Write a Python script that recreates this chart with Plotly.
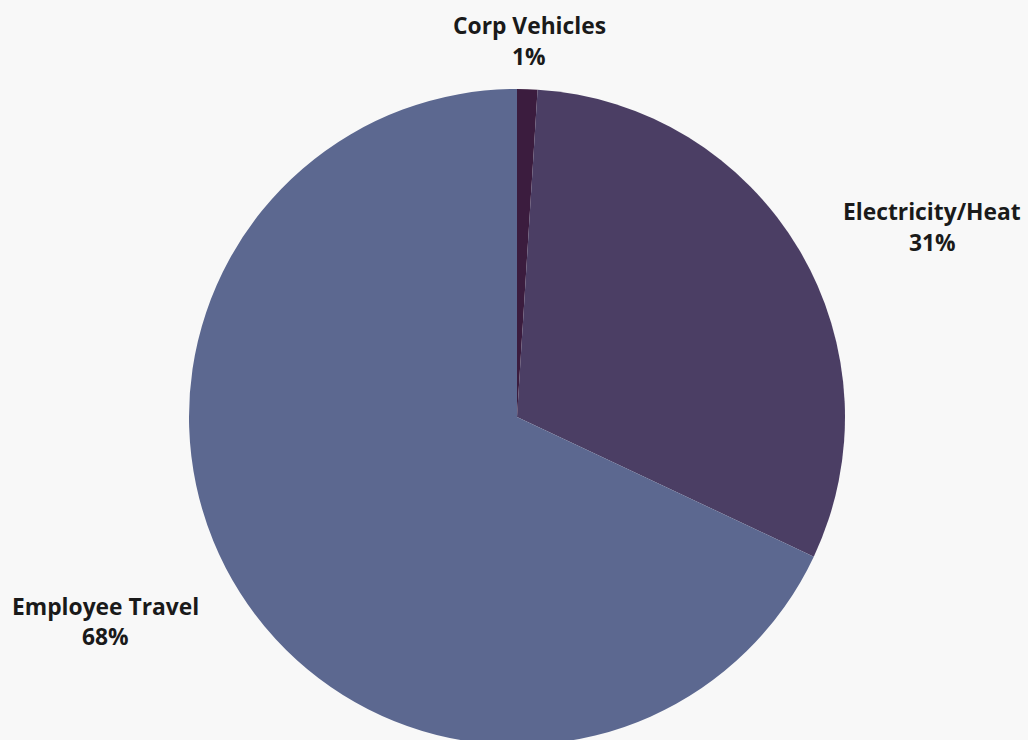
import plotly.graph_objects as go

categories = ["Corp Vehicles", "Electricity/Heat", "Employee Travel"]
values = [1, 31, 68]
colors = ["#3b1c3e", "#4b3e64", "#5c6890"]

# label line centres in pixels (x, y of name line, y of percent line)
label_pos = {
    "Corp Vehicles": (529, 26, 57),
    "Electricity/Heat": (932, 211, 242),
    "Employee Travel": (105, 606, 636),
}

W, H = 1028, 760
cx, cy, r = 517, 417, 328

fig = go.Figure(go.Pie(
    labels=categories,
    values=values,
    sort=False,
    direction="clockwise",
    rotation=0,
    marker=dict(colors=colors, line=dict(width=0)),
    textinfo="none",
    hoverinfo="label+percent",
    showlegend=False,
    domain=dict(x=[(cx - r) / W, (cx + r) / W], y=[1 - (cy + r) / H, 1 - (cy - r) / H]),
))

total = sum(values)
font = dict(family="Open Sans", size=22.8, color="#1a1a1a")
for cat, v in zip(categories, values):
    x, y1, y2 = label_pos[cat]
    fig.add_annotation(text=f"<b>{cat}</b>", x=x / W, y=1 - y1 / H, xref="paper", yref="paper",
                       xanchor="center", yanchor="middle", showarrow=False, font=font)
    fig.add_annotation(text=f"<b>{round(100 * v / total)}%</b>", x=x / W, y=1 - y2 / H, xref="paper", yref="paper",
                       xanchor="center", yanchor="middle", showarrow=False, font=font)

fig.update_layout(
    width=W, height=H, autosize=False,
    margin=dict(l=0, r=0, t=0, b=0),
    paper_bgcolor="#f8f8f8", plot_bgcolor="#f8f8f8",
)

fig.write_html("out.html", post_script="document.documentElement.style.overflow='hidden';document.body.style.overflow='hidden';document.body.style.margin='0';")
